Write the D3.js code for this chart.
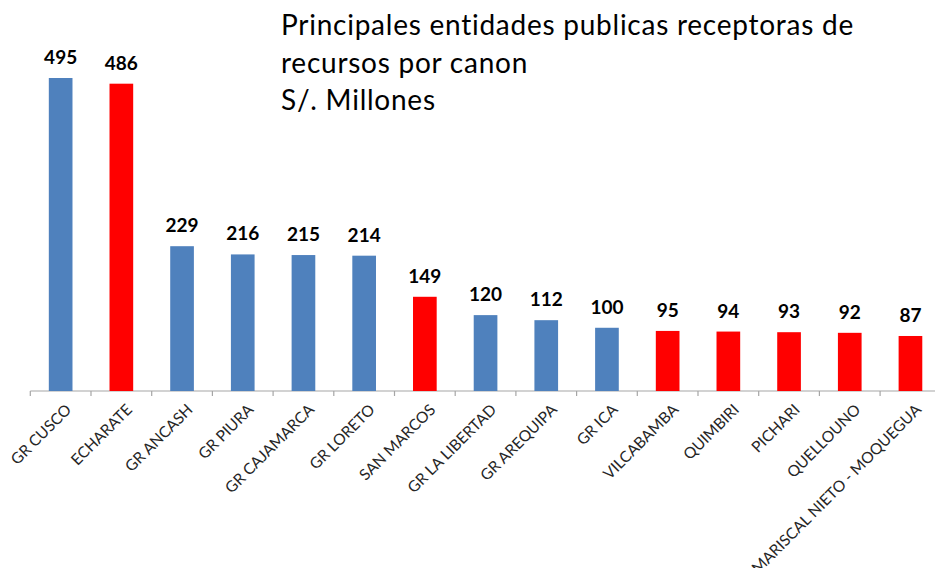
<!DOCTYPE html>
<html>
<head>
<meta charset="utf-8">
<style>
  * { margin:0; padding:0 }
  body { background:#fff; overflow:hidden; }
  text { font-family: Lato, "Open Sans", sans-serif; }
</style>
<script src="https://cdn.jsdelivr.net/npm/d3@7"></script>
</head>
<body>
<script>
var entidades = ["GR CUSCO", "ECHARATE", "GR ANCASH", "GR PIURA", "GR CAJAMARCA", "GR LORETO",
  "SAN MARCOS", "GR LA LIBERTAD", "GR AREQUIPA", "GR ICA", "VILCABAMBA", "QUIMBIRI",
  "PICHARI", "QUELLOUNO", "MARISCAL NIETO - MOQUEGUA"];
var montos = [495, 486, 229, 216, 215, 214, 149, 120, 112, 100, 95, 94, 93, 92, 87];
// "gr" = gobierno regional, "muni" = municipalidad
var tipos = ["gr", "muni", "gr", "gr", "gr", "gr", "muni", "gr", "gr", "gr", "muni", "muni", "muni", "muni", "muni"];
var titulo = ["Principales entidades publicas receptoras de", "recursos por canon", "S/. Millones"];

var width = 935, height = 568;
var colores = { gr: "#4F81BD", muni: "#FF0000" };

var svg = d3.select("body").append("svg")
  .attr("width", width)
  .attr("height", height);

var x = d3.scaleBand()
  .domain(entidades)
  .range([30.3, 940.8])
  .padding(0);

var y = d3.scaleLinear()
  .domain([0, 495])
  .range([391, 78]);

var barW = x.bandwidth() * 0.39;

// axis line + ticks at band edges
var axis = svg.append("g");
axis.append("line")
  .attr("x1", x.range()[0]).attr("x2", x.range()[1])
  .attr("y1", y(0)).attr("y2", y(0))
  .attr("stroke", "#a6a6a6").attr("stroke-width", 1.2);

axis.selectAll(".tick")
  .data(entidades)
  .enter().append("line")
  .attr("x1", function(d) { return x(d); })
  .attr("x2", function(d) { return x(d); })
  .attr("y1", y(0)).attr("y2", y(0) + 5)
  .attr("stroke", "#a6a6a6").attr("stroke-width", 1.2);

svg.selectAll(".bar")
  .data(entidades)
  .enter().append("rect")
  .attr("x", function(d) { return x(d) + (x.bandwidth() - barW) / 2; })
  .attr("y", function(d, i) { return y(montos[i]); })
  .attr("width", barW)
  .attr("height", function(d, i) { return y(0) - y(montos[i]); })
  .attr("fill", function(d, i) { return colores[tipos[i]]; });

svg.selectAll(".valor")
  .data(entidades)
  .enter().append("text")
  .attr("x", function(d) { return x(d) + x.bandwidth() / 2; })
  .attr("y", function(d, i) { return y(montos[i]) - 14; })
  .attr("text-anchor", "middle")
  .style("font-size", "19px")
  .style("font-weight", "bold")
  .style("fill", "#000")
  .text(function(d, i) { return montos[i]; });

svg.selectAll(".etiqueta")
  .data(entidades)
  .enter().append("text")
  .attr("transform", function(d) {
    return "translate(" + (x(d) + x.bandwidth() / 2 + 4) + "," + (y(0) + 12) + ")rotate(-45)";
  })
  .attr("text-anchor", "end")
  .attr("dy", "0.7em")
  .style("font-size", "15.5px")
  .style("fill", "#262626")
  .text(function(d) { return d; });

svg.append("g").selectAll("text")
  .data(titulo)
  .enter().append("text")
  .attr("x", 281)
  .attr("y", function(d, i) { return 35 + i * 37.5; })
  .style("font-size", "28px")
  .style("letter-spacing", "0.75px")
  .style("fill", "#000")
  .text(function(d) { return d; });
</script>
</body>
</html>
